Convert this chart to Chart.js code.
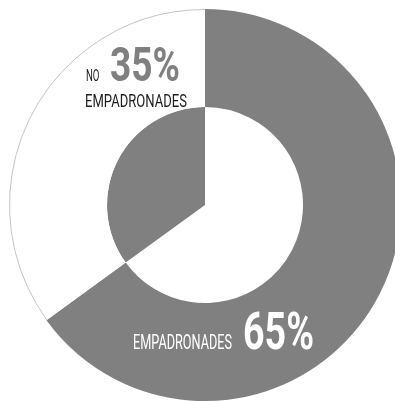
<!DOCTYPE html>
<html>
<head>
<meta charset="utf-8">
<script src="https://cdn.jsdelivr.net/npm/chart.js@4/dist/chart.umd.min.js"></script>
<style>
  html, body { margin: 0; padding: 0; background: #ffffff; overflow: hidden; }
  #wrap { position: relative; width: 395px; height: 401px; overflow: hidden; }
  canvas { position: absolute; left: 0; top: 0; }
</style>
</head>
<body>
<div id="wrap"><canvas id="chart" width="410" height="410"></canvas></div>
<script>
// Share of people registered in the municipal census
const categories = ['EMPADRONADES', 'NO EMPADRONADES'];
const shares = [65, 35];
const valueLabels = shares.map(v => v + '%');

const GREY = '#808080';
const WHITE = '#ffffff';

// Draws text squeezed horizontally to a given cap height and width
function condensed(ctx, text, x, baseline, cap, width, weight, color) {
  const size = cap / 0.711;
  ctx.save();
  ctx.font = weight + ' ' + size + 'px Roboto, "Liberation Sans", sans-serif';
  const w = ctx.measureText(text).width;
  const sx = width / w;
  ctx.translate(x, baseline);
  ctx.scale(sx, 1);
  ctx.fillStyle = color;
  ctx.textBaseline = 'alphabetic';
  ctx.textAlign = 'left';
  ctx.fillText(text, 0, 0);
  ctx.restore();
}

const outlineAndLabels = {
  id: 'outlineAndLabels',
  afterDatasetsDraw(chart) {
    const ctx = chart.ctx;
    const arc = chart.getDatasetMeta(0).data[1];
    const p = arc.getProps(['x', 'y', 'startAngle', 'endAngle', 'outerRadius']);
    ctx.save();
    ctx.strokeStyle = '#c4c4c4';
    ctx.lineWidth = 1;
    ctx.beginPath();
    ctx.arc(p.x, p.y, p.outerRadius - 0.5, p.startAngle, p.endAngle);
    ctx.stroke();
    ctx.restore();

    const cx = p.x, cy = p.y;
    // NO EMPADRONADES label (upper left)
    const noWords = categories[1].split(' ');
    condensed(ctx, noWords[0], cx - 119, cy - 124, 12, 13.5, '400', '#1e1e1e');
    condensed(ctx, valueLabels[1], cx - 95, cy - 124, 34, 70, '700', GREY);
    condensed(ctx, noWords[1], cx - 120, cy - 98, 13.5, 102, '400', '#1e1e1e');
    // EMPADRONADES label (lower right)
    condensed(ctx, categories[0], cx - 72, cy + 144, 15, 99, '400', WHITE);
    condensed(ctx, valueLabels[0], cx + 38, cy + 144, 37, 71, '700', WHITE);
  }
};

new Chart(document.getElementById('chart'), {
  type: 'doughnut',
  data: {
    labels: categories,
    datasets: [
      { data: shares, backgroundColor: [GREY, WHITE], borderWidth: 0 },
      { data: shares, backgroundColor: [WHITE, GREY], borderWidth: 0 }
    ]
  },
  options: {
    responsive: false,
    animation: false,
    cutout: 0,
    layout: { padding: 9 },
    plugins: { legend: { display: false }, tooltip: { enabled: false } },
    events: []
  },
  plugins: [outlineAndLabels]
});
</script>
</body>
</html>
